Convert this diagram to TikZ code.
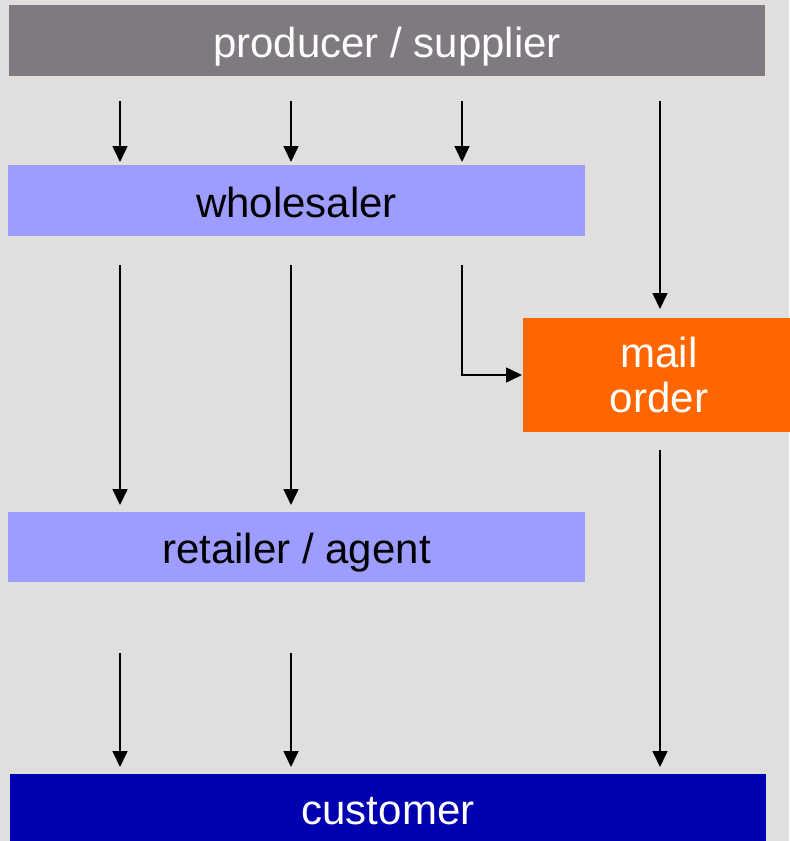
\documentclass[tikz,border=0pt]{standalone}
\usepackage{fontspec}
\setmainfont{Liberation Sans}
\usetikzlibrary{arrows.meta}
\definecolor{bgcol}{HTML}{E0DFDD}
\definecolor{prodcol}{HTML}{7F7A7F}
\definecolor{tradecol}{HTML}{9D9DFF}
\definecolor{mailcol}{HTML}{FF6600}
\definecolor{custcol}{HTML}{0000B0}
\tikzset{
  band/.style={rectangle, inner sep=0pt, outer sep=0pt, align=center,
    font=\fontsize{21pt}{22.5pt}\selectfont},
  oneline/.style={band, text height=16.5pt, text depth=0pt},
  flow/.style={draw=black, line width=0.8pt,
    -{Triangle[length=8pt,width=7.5pt]}},
}
\begin{document}
\begin{tikzpicture}[x=0.5pt, y=-0.5pt]
  \fill[bgcol] (0,0) rectangle (789,841);
  \useasboundingbox (0,0) rectangle (789,841);

  % column positions of the flow lines
  \coordinate (c1) at (120,0);
  \coordinate (c2) at (291,0);
  \coordinate (c3) at (462,0);
  \coordinate (c4) at (660,0);

  \node[oneline, fill=prodcol, text=white, minimum width=378pt, minimum height=35.5pt]
    (prod) at (387,40.5) {producer / supplier};
  \node[oneline, fill=tradecol, text=black, minimum width=288.5pt, minimum height=35.5pt]
    (whole) at (296.5,200.5) {wholesaler};
  \node[band, fill=mailcol, text=white, minimum width=136pt, minimum height=57pt]
    (mail) at (659,375) {mail\\order};
  \node[oneline, fill=tradecol, text=black, minimum width=288.5pt, minimum height=35pt]
    (retail) at (296.5,547) {retailer / agent};
  \node[oneline, fill=custcol, text=white, minimum width=378pt, minimum height=33.5pt]
    (cust) at (388,807.5) {customer};

  % producer to wholesaler and mail order
  \foreach \c in {c1,c2,c3}
    \draw[flow, shorten <=12.5pt, shorten >=1.5pt] (prod.south -| \c) -- (whole.north -| \c);
  \draw[flow, shorten <=12.5pt, shorten >=4.5pt] (prod.south -| c4) -- (mail.north -| c4);

  % wholesaler to retailer and mail order
  \foreach \c in {c1,c2}
    \draw[flow, shorten <=14.5pt, shorten >=3.5pt] (whole.south -| \c) -- (retail.north -| \c);
  \draw[flow, shorten <=14.5pt, shorten >=0.5pt] (whole.south -| c3) |- (mail.west);

  % retailer and mail order to customer
  \foreach \c in {c1,c2}
    \draw[flow, shorten <=35.5pt, shorten >=3.5pt] (retail.south -| \c) -- (cust.north -| \c);
  \draw[flow, shorten <=9pt, shorten >=3.5pt] (mail.south -| c4) -- (cust.north -| c4);
\end{tikzpicture}
\end{document}
